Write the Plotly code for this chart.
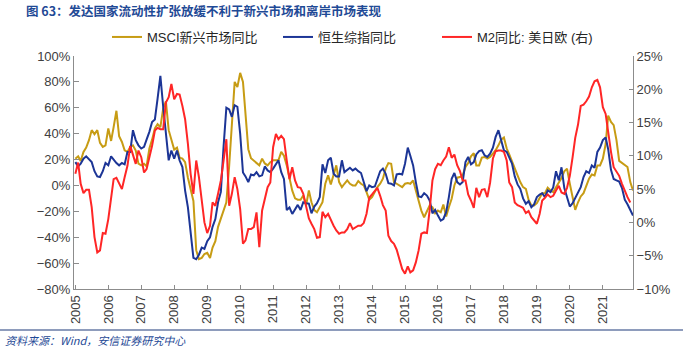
import plotly.graph_objects as go
import pandas as pd

# ---------------- data (monthly, Jan 2005 – Dec 2021) ----------------
start_month = "2005-01-01"

msci_2005 = [20.7, 22.5, 18.9, 25.9, 29.2, 35, 42.7, 39.6, 42.7, 32.9, 29.8, 31]
msci_2006 = [44, 34.4, 45, 57.7, 38, 33.6, 27.2, 25.9, 29.8, 31, 27, 16.8]
msci_2007 = [15.5, 16.8, 14.7, 28.5, 35.4, 44, 47.3, 45, 59.5, 65, 42.7, 35]
msci_2008 = [27.7, 29.2, 21.5, 20.7, 18, 6, -3, -12, -50, -57, -56, -53]
msci_2009 = [-52, -56, -48, -43, -32, -25, -19, -13, 15, 50, 80, 76]
msci_2010 = [87, 80, 55, 28, 21, 19, 17, 15.5, 20.7, 17, 15.5, 18]
msci_2011 = [19.4, 19.4, 19.4, 25.9, 23, 15.5, 6.5, -4, -10, -11, -11, -7.8]
msci_2012 = [-15.5, -3.9, -13, -19, -20.7, -16.8, -13, 1.3, 7.8, 0.8, 9, 15.5]
msci_2013 = [2.6, -1.3, 1.3, 3.9, 1.3, 0, 0, 3.4, 1.3, 0, -5.2, -11]
msci_2014 = [-9, -5.2, -1.3, 1.3, 5.2, 13, 17.3, 16.8, 2.6, 1.3, 0, -1.3]
msci_2015 = [1.3, 1.8, 1.3, 3.9, -3.9, -13, -19.4, -24.6, -19.4, -15.5, -16.8, -21.5]
msci_2016 = [-19.4, -20.7, -14.7, -24, -16.8, -10.3, 0, 6, 6.5, 7.8, 14.2, 17.3]
msci_2017 = [22.5, 25, 15.5, 15.5, 21.5, 22, 20.7, 22, 24.6, 27.2, 31, 35.4]
msci_2018 = [37, 28.5, 24, 18, 13, 7.8, 2.6, -1.3, -2.6, -11, -15.5, -15.5]
msci_2019 = [-13.7, -9.6, -6, -6, -1.8, -3.9, -5.2, -1.3, 1.8, 5.7, 11, 13]
msci_2020 = [1.3, -8.5, -18.9, -13, -8.5, -6, 0, 5.2, 8.5, 7.8, 15.5, 15.5]
msci_2021 = [20.7, 32, 54, 49, 46.6, 35, 19, 17.3, 15.5, 14.2, 2.6, -3.9]

hsci_2005 = [18, 14.7, 16.8, 20.7, 22.5, 20, 18, 11, 7, 6.5, 11, 17.3]
hsci_2006 = [15.5, 22.5, 20, 17.3, 15.5, 17.3, 16.3, 25.9, 25.9, 42.7, 35, 31]
hsci_2007 = [28.5, 29.8, 35.4, 41.4, 49, 51, 67, 84.6, 60.8, 40, 19.4, 27]
hsci_2008 = [20.7, 27, 19.4, 14.2, -4, -17, -36, -56, -57, -53.5, -48, -49]
hsci_2009 = [-43, -40, -32, -26, -13, -5, 30, 60, 58.7, 53, 62, 60.8]
hsci_2010 = [40, 10, 7, 2.6, 8.5, 7.8, 10.3, 7, 7.8, 14.7, 11.6, 10.3]
hsci_2011 = [13, 16.8, 19.4, 10.3, 5, -19, -17, -22, -18, -15, -19, -13]
hsci_2012 = [-13.7, -14, -21.5, -16.3, -13.7, -9, 16.3, 9.6, 19.4, 21.5, 9, 7]
hsci_2013 = [7, 19.4, 10.3, 12.2, 13.7, 11.6, 13, 11, 9.6, 2.6, -4.4, 0]
hsci_2014 = [-1.3, -0.8, 5.2, 11, 13, 9, 1.8, 1.3, 0, 8.5, 9, 8.5]
hsci_2015 = [16.8, 29.2, 23, 15.5, 2.6, -8.5, -9, -6, -7.8, -11.6, -21.5, -18.9]
hsci_2016 = [-23.3, -27.2, -25.9, -20.7, -9, 5.2, 9.6, 2.6, 0.8, 2.6, 18, 22]
hsci_2017 = [16.3, 18, 24, 26.6, 27.2, 23.3, 22, 24.6, 29.2, 37.5, 42.7, 35]
hsci_2018 = [27.2, 25.9, 22, 16.8, 7, 0.8, -2.6, -10, -14.2, -12.2, -16.8, -14.7]
hsci_2019 = [-9, -7, -6, -9, -3.9, -5.2, -1.5, 11, 4, 14, -2, -9]
hsci_2020 = [-16.3, -13.7, -9.6, -6.5, -1.3, 6.5, 11, 9.6, 15.5, 13.7, 25.9, 29.2]
hsci_2021 = [35, 37, 28, 12, 5, 3.9, 3, -2, -11, -14.5, -19, -23.3]

m2_2005 = [7.3, 9, 5.8, 4.4, 4.9, 4.9, 2.3, -2.2, -4.5, -4.2, -1.6, -1.7]
m2_2006 = [0.5, 3.8, 6.5, 6.7, 5.9, 5, 6.8, 8.5, 11.5, 10, 8.8, 10.8]
m2_2007 = [9.8, 7.5, 8, 9.8, 11.5, 13.8, 14.2, 14, 14, 18, 18.8, 20.8]
m2_2008 = [18.5, 19.3, 19.2, 17.5, 15.5, 11.8, 7.3, 4.3, 9.3, 6.8, 3.3, 0]
m2_2009 = [-1.6, -0.5, 3, 2.5, 4.3, 6.3, 9.3, 12.5, 2.5, 4.3, 6.8, 5]
m2_2010 = [2, -3.2, -2.7, -1, -1, -0.7, 1.5, -3.7, 1.8, 3.5, 5.3, 6]
m2_2011 = [11.3, 13.3, 12.5, 13, 12.5, 9.3, 6.5, 8.3, 6.3, 5.3, 5.2, 4.3]
m2_2012 = [2.6, 0.6, -0.2, -1, -2.3, -2.2, 1.6, 0.8, 1.3, 0.3, -0.5, -1.2]
m2_2013 = [-1.7, -1.5, -1.5, -1, -0.1, -1, -0.7, -0.5, -0.5, -0.1, 1.3, 3.7]
m2_2014 = [4.2, 4.8, 5.2, 4, 2.6, 1.8, -2, -2.8, -3.2, -4.1, -5.7, -7]
m2_2015 = [-7.7, -6.6, -7.5, -7.2, -6, -4.2, -1.7, -1.5, -1.6, 1.8, 6.3, 8]
m2_2016 = [8.8, 8.6, 9.3, 9.9, 11.3, 9.7, 10.2, 8.6, 7.7, 6.3, 6.3, 4.2]
m2_2017 = [3.3, 2.2, 5.2, 3.8, 4.9, 5, 3.8, 6, 9.6, 10.7, 10.8, 10.8]
m2_2018 = [10.6, 9.3, 6, 5.3, 3, 2.6, 2.4, 2.2, 1.4, 1.7, 0.8, 0.3]
m2_2019 = [-0.2, 1.3, 3.3, 3.7, 4.2, 3.8, 4, 4.8, 5.5, 4.5, 4.3, 5.2]
m2_2020 = [7, 9.8, 12.7, 14.7, 17.5, 17.7, 18.2, 18.9, 20.3, 21.2, 21.4, 20.3]
m2_2021 = [17.3, 16.3, 13.3, 10.6, 8.3, 7.7, 7, 5.8, 4.7, 3.8, 3]

msci = (msci_2005 + msci_2006 + msci_2007 + msci_2008 + msci_2009 + msci_2010 +
        msci_2011 + msci_2012 + msci_2013 + msci_2014 + msci_2015 + msci_2016 +
        msci_2017 + msci_2018 + msci_2019 + msci_2020 + msci_2021)
hsci = (hsci_2005 + hsci_2006 + hsci_2007 + hsci_2008 + hsci_2009 + hsci_2010 +
        hsci_2011 + hsci_2012 + hsci_2013 + hsci_2014 + hsci_2015 + hsci_2016 +
        hsci_2017 + hsci_2018 + hsci_2019 + hsci_2020 + hsci_2021)
m2 = (m2_2005 + m2_2006 + m2_2007 + m2_2008 + m2_2009 + m2_2010 +
      m2_2011 + m2_2012 + m2_2013 + m2_2014 + m2_2015 + m2_2016 +
      m2_2017 + m2_2018 + m2_2019 + m2_2020 + m2_2021)

dates = pd.date_range(start_month, periods=len(msci), freq="MS")

names = ["MSCI新兴市场同比", "恒生综指同比", "M2同比: 美日欧 (右)"]
title_text = "图 63：发达国家流动性扩张放缓不利于新兴市场和离岸市场表现"
source_text = "资料来源：Wind，安信证券研究中心"

# ---------------- styling ----------------
GOLD = "#C79C14"
BLUE = "#1C3596"
RED = "#FF2626"
NAVY = "#1F4A96"
AXIS = "#8C8C8C"
TXT = "#404040"
FONT = "Liberation Sans, Arial, Noto Sans CJK SC, sans-serif"
CJK = "Noto Sans CJK SC, sans-serif"

W, H = 688, 350
L, R, T, B = 74, 55, 56, 61
PW, PH = W - L - R, H - T - B


def px(xp):
    return (xp - L) / PW


def py(yp):
    return (H - B - yp) / PH


fig = go.Figure()
fig.add_trace(go.Scatter(x=dates, y=msci, name=names[0], mode="lines",
                         line=dict(color=GOLD, width=2), legend="legend"))
fig.add_trace(go.Scatter(x=dates, y=hsci, name=names[1], mode="lines",
                         line=dict(color=BLUE, width=2), legend="legend2"))
fig.add_trace(go.Scatter(x=dates[:len(m2)], y=m2, name=names[2], mode="lines",
                         yaxis="y2", line=dict(color=RED, width=2), legend="legend3"))

leg_common = dict(orientation="h", xanchor="left", yanchor="middle",
                  bgcolor="rgba(0,0,0,0)", font=dict(family=FONT, size=13, color="#262626"),
                  itemwidth=30)

fig.update_layout(
    width=W, height=H, autosize=False,
    margin=dict(l=L, r=R, t=T, b=B, pad=0),
    paper_bgcolor="white", plot_bgcolor="white",
    font=dict(family=FONT, size=13, color=TXT),
    showlegend=True,
    legend=dict(x=px(107), y=py(37), **leg_common),
    legend2=dict(x=px(278), y=py(37), **leg_common),
    legend3=dict(x=px(437), y=py(37), **leg_common),
    xaxis=dict(type="date", range=["2004-12-17", "2021-12-01"],
               tick0="2005-01-01", dtick="M12", tickformat="%Y", tickangle=-90,
               ticks="inside", ticklen=4, tickcolor=AXIS,
               showline=True, linecolor=AXIS, linewidth=1,
               showgrid=False, zeroline=False,
               tickfont=dict(family=FONT, size=13, color=TXT)),
    yaxis=dict(range=[-80, 100], dtick=20, ticksuffix="%",
               ticks="inside", ticklen=5, tickcolor=AXIS,
               showline=True, linecolor=AXIS, linewidth=1,
               showgrid=False, zeroline=False,
               tickfont=dict(family=FONT, size=13, color=TXT)),
    yaxis2=dict(range=[-10, 25], dtick=5, ticksuffix="%", overlaying="y", side="right",
                ticks="inside", ticklen=4, tickcolor=AXIS,
                showline=True, linecolor=AXIS, linewidth=1,
                showgrid=False, zeroline=False,
                tickfont=dict(family=FONT, size=13, color=TXT)),
    annotations=[
        dict(text=title_text, xref="paper", yref="paper", x=px(24), y=py(10),
             xanchor="left", yanchor="middle", showarrow=False,
             font=dict(family=CJK, size=12.5, color=NAVY, weight="bold")),
        dict(text=source_text, xref="paper", yref="paper", x=px(3), y=py(340),
             xanchor="left", yanchor="middle", showarrow=False,
             font=dict(family=CJK, size=11, color=NAVY, style="italic")),
    ],
    shapes=[
        dict(type="line", xref="paper", yref="paper", x0=px(0), x1=px(683),
             y0=py(330), y1=py(330), line=dict(color="#1F3A7A", width=1.2)),
    ],
)

fig.write_html("out.html")
